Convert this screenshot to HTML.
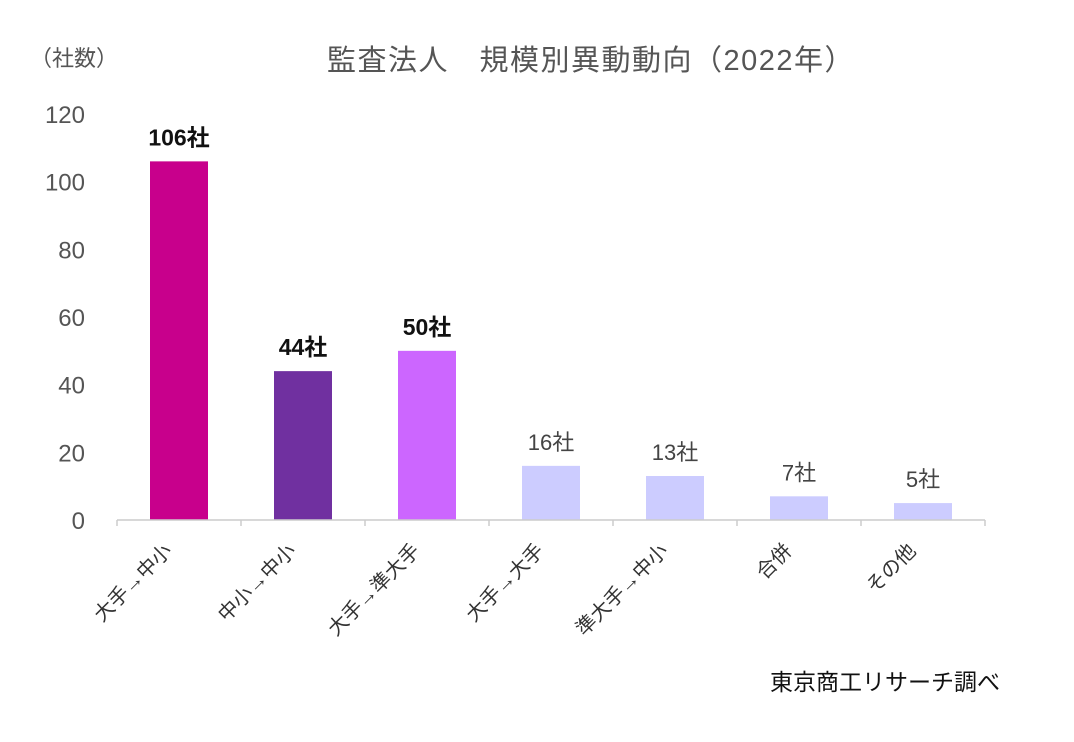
<!DOCTYPE html>
<html><head><meta charset="utf-8"><style>
body{margin:0;background:#fff;}
text{font-family:"Liberation Sans","Noto Sans CJK JP",sans-serif;}
</style></head><body>
<svg id="chart" width="1074" height="737" xmlns="http://www.w3.org/2000/svg">
<text x="591" y="70" text-anchor="middle" font-size="29" letter-spacing="1.5" fill="#555">監査法人　規模別異動動向（2022年）</text>
<text x="30" y="66" font-size="22" fill="#555">（社数）</text>
<text x="1000" y="690" text-anchor="end" font-size="23" fill="#111">東京商工リサーチ調べ</text>
<g id="g"></g>
</svg>
<script>
const categories=["大手→中小","中小→中小","大手→準大手","大手→大手","準大手→中小","合併","その他"];
const values=[106,44,50,16,13,7,5];
const valueLabels=["106社","44社","50社","16社","13社","7社","5社"];
const colors=["#C8008C","#7030A0","#CC66FF","#CCCCFF","#CCCCFF","#CCCCFF","#CCCCFF"];
const boldLabels=[true,true,true,false,false,false,false];
const yTicks=[0,20,40,60,80,100,120];
const x0=117,x1=985,y0=520,yTop=114,yMax=120;
const n=categories.length,step=(x1-x0)/n,bw=58;
const ys=v=>y0-(v/yMax)*(y0-yTop);
const xc=i=>x0+step*(i+0.5);
const g=document.getElementById('g');
const NS="http://www.w3.org/2000/svg";
function mk(t,a){const e=document.createElementNS(NS,t);for(const k in a)e.setAttribute(k,a[k]);g.appendChild(e);return e;}
yTicks.forEach(t=>{
 const e=mk('text',{x:85,y:ys(t)+9,'text-anchor':'end','font-size':24,fill:'#555'});
 
 
 e.textContent=t;
});
values.forEach((v,i)=>{
 const r=mk('rect',{x:xc(i)-bw/2,y:ys(v),width:bw,height:y0-ys(v),fill:colors[i]});
 
 
 const t=mk('text',{x:xc(i),y:ys(v)-16,'text-anchor':'middle','font-size':boldLabels[i]?23:22,'font-weight':boldLabels[i]?'bold':'normal',fill:boldLabels[i]?'#111':'#444'});
 
 
 t.textContent=valueLabels[i];
 const c=mk('text',{x:0,y:0,'text-anchor':'end','font-size':20,fill:'#333',transform:`translate(${xc(i)-6},${y0+32}) rotate(-45)`});
 
 
 c.textContent=categories[i];
});
const ax=mk('line',{x1:x0,y1:y0,x2:x1,y2:y0,stroke:'#ccc','stroke-width':1.5});


for(let i=0;i<=n;i++){
 const tk=mk('line',{x1:x0+step*i,y1:y0,x2:x0+step*i,y2:y0+6,stroke:'#ccc','stroke-width':1.5});
 
 
}
</script>
</body></html>
